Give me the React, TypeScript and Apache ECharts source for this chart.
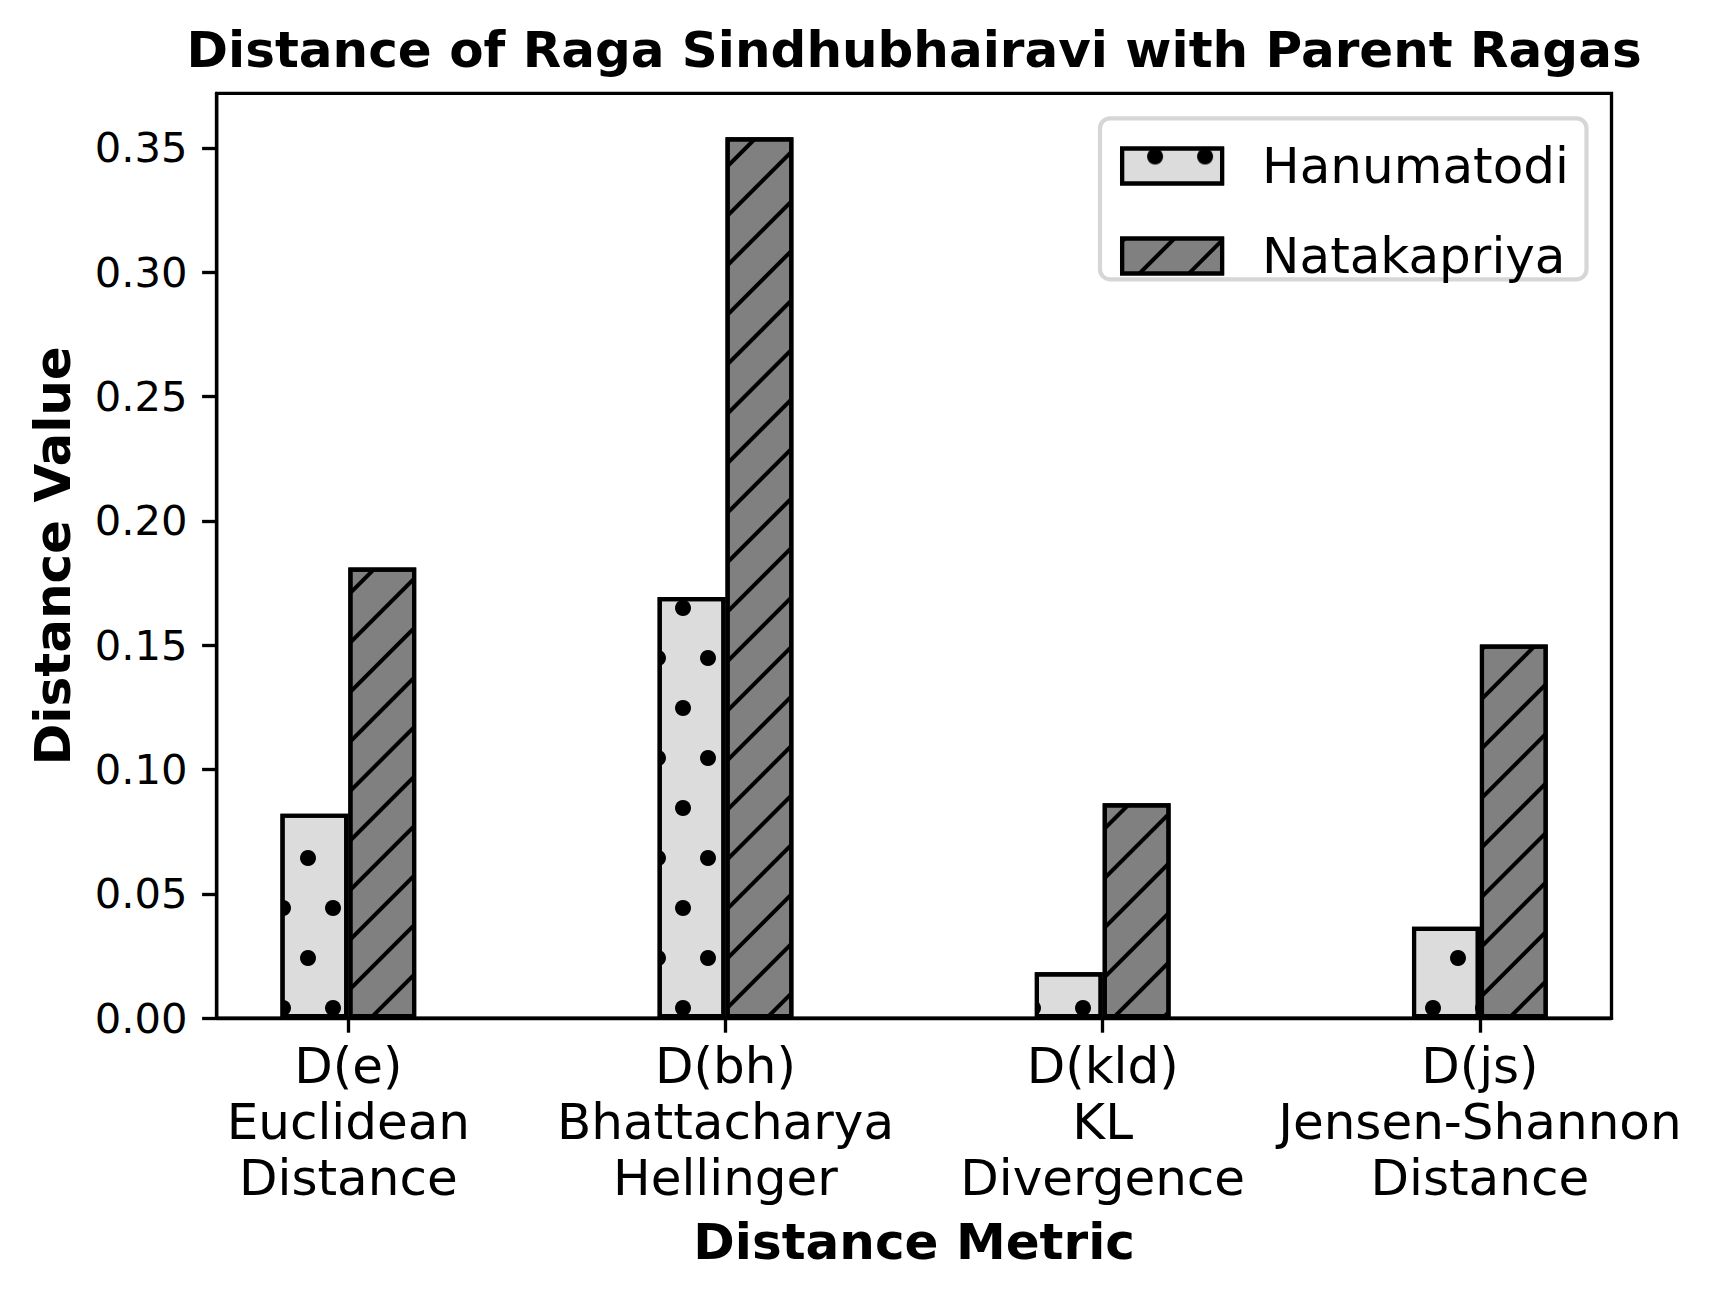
import React, { useEffect, useRef } from "react";
import * as echarts from "echarts";

// ---------- data ----------
const categories = [
  "D(e)\nEuclidean\nDistance",
  "D(bh)\nBhattacharya\nHellinger",
  "D(kld)\nKL\nDivergence",
  "D(js)\nJensen-Shannon\nDistance",
];
const seriesNames = ["Hanumatodi", "Natakapriya"];
const hanumatodi = [0.0822, 0.1693, 0.0184, 0.0367];
const natakapriya = [0.1812, 0.3542, 0.0864, 0.1502];
const yTicks = [0, 0.05, 0.1, 0.15, 0.2, 0.25, 0.3, 0.35];
const xTicks = [0, 1, 2, 3];

// ---------- layout ----------
const W = 1711;
const H = 1300;
const GRID_LEFT = 216.7;
const GRID_TOP = 93.3;
const GRID_RIGHT_EDGE = 1611.5;
const GRID_BOTTOM_EDGE = 1018.1;
const BAR_W = 0.18; // in axis units
const X_MIN = -0.349;
const X_MAX = 3.349;
const Y_MAX = 0.3719;
const PX_PER_UNIT = (GRID_RIGHT_EDGE - GRID_LEFT) / (X_MAX - X_MIN);
const BAR_W_PX = BAR_W * PX_PER_UNIT;
const FONT = "DejaVu Sans";
const LW = 4.17; // 1pt at 300dpi
const SPINE = 3.33; // 0.8pt

export default function App() {
  const ref = useRef<HTMLDivElement>(null);
  useEffect(() => {
    if (!ref.current) return;
    const chart = echarts.init(ref.current, undefined, { renderer: "svg" });

    const dotDecal = {
      symbol: "circle",
      symbolSize: 1,
      color: "#000",
      dashArrayX: [
        [16, 34],
        [0, 25, 16, 9],
      ],
      dashArrayY: [16, 34],
      rotation: 0,
    };
    const hatchDecal = {
      symbol: "rect",
      symbolSize: 1,
      color: "#000",
      dashArrayX: [1, 0],
      dashArrayY: [4, 31],
      rotation: -Math.PI / 4,
    };

    const option: any = {
      animation: false,
      backgroundColor: "#fff",
      textStyle: { fontFamily: FONT, color: "#000" },
      title: {
        text: "Distance of Raga Sindhubhairavi with Parent Ragas",
        left: (GRID_LEFT + GRID_RIGHT_EDGE) / 2,
        top: 25,
        padding: 0,
        textAlign: "center",
        textStyle: {
          fontFamily: FONT,
          fontSize: 50,
          lineHeight: 50,
          fontWeight: "bold",
          color: "#000",
        },
      },
      grid: {
        left: GRID_LEFT,
        top: GRID_TOP,
        width: GRID_RIGHT_EDGE - GRID_LEFT,
        height: GRID_BOTTOM_EDGE - GRID_TOP,
        show: true,
        borderColor: "#000",
        borderWidth: SPINE,
        containLabel: false,
      },
      legend: {
        orient: "vertical",
        left: 1120,
        top: 141,
        padding: 0,
        itemWidth: 100,
        itemHeight: 35,
        itemGap: 40,
        icon: "rect",
        z: 5,
        data: seriesNames,
        itemStyle: { borderColor: "#000", borderWidth: LW },
        textStyle: {
          fontFamily: FONT,
          fontSize: 50,
          lineHeight: 35,
          color: "#000",
          padding: [0, 0, 0, 35],
        },
      },
      graphic: [
        {
          type: "rect",
          z: 4,
          shape: { x: 1100, y: 118.3, width: 486.5, height: 161, r: 10 },
          style: {
            fill: "rgba(255,255,255,0.8)",
            stroke: "rgba(204,204,204,0.8)",
            lineWidth: LW,
          },
        },
      ],
      xAxis: {
        type: "value",
        min: X_MIN,
        max: X_MAX,
        name: "Distance Metric",
        nameLocation: "middle",
        nameGap: 199,
        nameTextStyle: {
          fontFamily: FONT,
          fontSize: 50,
          lineHeight: 50,
          fontWeight: "bold",
          color: "#000",
        },
        axisLine: { show: true, onZero: false, lineStyle: { color: "#000", width: SPINE } },
        axisTick: {
          show: true,
          inside: false,
          length: 14.6,
          customValues: xTicks,
          lineStyle: { color: "#000", width: SPINE },
        },
        axisLabel: {
          show: true,
          customValues: xTicks,
          margin: 20,
          fontFamily: FONT,
          fontSize: 50,
          lineHeight: 56,
          color: "#000",
          hideOverlap: false,
          formatter: (v: number) => categories[Math.round(v)] ?? "",
        },
        splitLine: { show: false },
      },
      yAxis: {
        type: "value",
        min: 0,
        max: Y_MAX,
        name: "Distance Value",
        nameLocation: "middle",
        nameGap: 139,
        nameRotate: 90,
        nameTextStyle: {
          fontFamily: FONT,
          fontSize: 50,
          lineHeight: 50,
          fontWeight: "bold",
          color: "#000",
        },
        axisLine: { show: true, onZero: false, lineStyle: { color: "#000", width: SPINE } },
        axisTick: {
          show: true,
          inside: false,
          length: 14.6,
          customValues: yTicks,
          lineStyle: { color: "#000", width: SPINE },
        },
        axisLabel: {
          show: true,
          customValues: yTicks,
          margin: 29.2,
          fontFamily: FONT,
          fontSize: 41.7,
          color: "#000",
          formatter: (v: number) => v.toFixed(2),
        },
        splitLine: { show: false },
      },
      series: [
        {
          type: "bar",
          name: seriesNames[0],
          data: hanumatodi.map((v, i) => [xTicks[i] - BAR_W / 2, v]),
          barWidth: BAR_W_PX,
          barGap: "-100%",
          z: 2,
          itemStyle: {
            color: "#dcdcdc",
            borderColor: "#000",
            borderWidth: LW,
            decal: dotDecal,
          },
        },
        {
          type: "bar",
          name: seriesNames[1],
          data: natakapriya.map((v, i) => [xTicks[i] + BAR_W / 2, v]),
          barWidth: BAR_W_PX,
          barGap: "-100%",
          z: 3,
          itemStyle: {
            color: "#808080",
            borderColor: "#000",
            borderWidth: LW,
            decal: hatchDecal,
          },
        },
      ],
    };
    chart.setOption(option);
    return () => chart.dispose();
  }, []);

  return (
    <div
      ref={ref}
      style={{ position: "absolute", left: 0, top: 0, width: W, height: H, background: "#fff" }}
    />
  );
}
